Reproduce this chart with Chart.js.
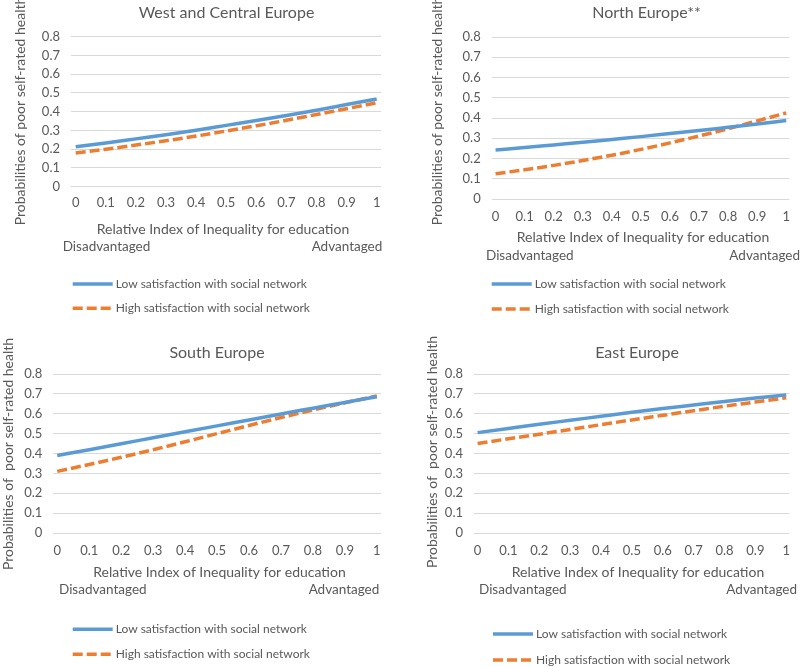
<!DOCTYPE html>
<html>
<head>
<meta charset="utf-8">
<script src="https://cdn.jsdelivr.net/npm/chart.js@4.4.1/dist/chart.umd.min.js"></script>
<style>
  body { margin: 0; background: #fff; }
  .panel { position: absolute; }
</style>
</head>
<body>
<div class="panel" style="left:0;top:0"><canvas id="chartWest" width="400" height="333"></canvas></div>
<div class="panel" style="left:400px;top:0"><canvas id="chartNorth" width="400" height="333"></canvas></div>
<div class="panel" style="left:0;top:333px"><canvas id="chartSouth" width="400" height="334"></canvas></div>
<div class="panel" style="left:400px;top:333px"><canvas id="chartEast" width="400" height="334"></canvas></div>
<script>
// data
const xValues = [0, 0.1, 0.2, 0.3, 0.4, 0.5, 0.6, 0.7, 0.8, 0.9, 1];
const yTicks = [0, 0.1, 0.2, 0.3, 0.4, 0.5, 0.6, 0.7, 0.8];

const westLow = [0.213, 0.233, 0.255, 0.277, 0.301, 0.327, 0.353, 0.38, 0.408, 0.438, 0.468];
const westHigh = [0.18, 0.2, 0.222, 0.245, 0.27, 0.297, 0.325, 0.354, 0.385, 0.416, 0.448];
const northLow = [0.242, 0.254, 0.267, 0.28, 0.294, 0.308, 0.323, 0.338, 0.354, 0.37, 0.388];
const northHigh = [0.125, 0.144, 0.166, 0.19, 0.216, 0.245, 0.277, 0.311, 0.347, 0.386, 0.425];
const southLow = [0.39, 0.419, 0.449, 0.479, 0.509, 0.539, 0.569, 0.599, 0.628, 0.657, 0.686];
const southHigh = [0.31, 0.345, 0.381, 0.419, 0.459, 0.5, 0.541, 0.581, 0.619, 0.655, 0.69];
const eastLow = [0.505, 0.526, 0.547, 0.567, 0.587, 0.607, 0.626, 0.644, 0.662, 0.679, 0.695];
const eastHigh = [0.45, 0.474, 0.497, 0.521, 0.545, 0.569, 0.592, 0.615, 0.638, 0.659, 0.68];

const seriesNames = ['Low satisfaction with social network', 'High satisfaction with social network'];
const panelTitles = ['West and Central Europe', 'North Europe**', 'South Europe', 'East Europe'];
const yTitles = [
  'Probabilities of poor self-rated health',
  'Probabilities of poor self-rated health',
  'Probabilities of  poor self-rated health',
  'Probabilities of  poor self-rated health',
];
const xTitle = 'Relative Index of Inequality for education';
const endLabels = ['Disadvantaged', 'Advantaged'];

const textColor = '#595959';
const fontFamily = 'Lato, "Open Sans", sans-serif';

// extra texts: titles, axis captions and the legend
const panelText = {
  id: 'panelText',
  afterDraw(chart, args, opts) {
    const ctx = chart.ctx;
    const b = opts.box;
    ctx.save();
    ctx.fillStyle = textColor;
    ctx.textBaseline = 'middle';

    ctx.font = '16px ' + fontFamily;
    ctx.textAlign = 'center';
    ctx.fillText(opts.title, b.titleX, b.titleY);

    ctx.font = '14px ' + fontFamily;
    ctx.fillText(xTitle, b.xTitleX, b.xTitleY);
    ctx.font = '13.5px ' + fontFamily;
    ctx.textAlign = 'left';
    ctx.fillText(endLabels[0], b.disX, b.endY);
    ctx.textAlign = 'right';
    ctx.fillText(endLabels[1], b.advX, b.endY);

    ctx.save();
    ctx.font = '14px ' + fontFamily;
    ctx.translate(b.yTitleX, b.yTitleY);
    ctx.rotate(-Math.PI / 2);
    ctx.textAlign = 'center';
    ctx.fillText(opts.yTitle, 0, 0);
    ctx.restore();

    // legend, stacked
    ctx.font = '12px ' + fontFamily;
    chart.data.datasets.forEach((ds, i) => {
      const y = b.legendY[i];
      ctx.save();
      ctx.strokeStyle = ds.borderColor;
      ctx.lineWidth = ds.borderWidth;
      ctx.setLineDash(ds.borderDash || []);
      ctx.beginPath();
      ctx.moveTo(b.legendX, y);
      ctx.lineTo(b.legendX + 40, y);
      ctx.stroke();
      ctx.restore();
      ctx.textAlign = 'left';
      ctx.fillText(ds.label, b.legendX + 43, y);
    });
    ctx.restore();
  },
};

function makePanel(canvasId, idx, low, high, box) {
  const canvas = document.getElementById(canvasId);
  const ctx = canvas.getContext('2d');
  return new Chart(ctx, {
    type: 'line',
    data: {
      datasets: [
        {
          label: seriesNames[0],
          data: xValues.map((x, i) => ({ x: x, y: low[i] })),
          borderColor: '#5B9BD5',
          borderWidth: 3.5,
          pointRadius: 0,
          cubicInterpolationMode: 'monotone',
          fill: false,
        },
        {
          label: seriesNames[1],
          data: xValues.map((x, i) => ({ x: x, y: high[i] })),
          borderColor: '#ED7D31',
          borderWidth: 3.5,
          borderDash: [10, 4],
          pointRadius: 0,
          cubicInterpolationMode: 'monotone',
          fill: false,
        },
      ],
    },
    options: {
      responsive: false,
      animation: false,
      layout: {
        padding: { left: 0, top: box.top, right: canvas.width - box.right, bottom: 0 },
      },
      scales: {
        x: {
          type: 'linear',
          min: box.xMin,
          max: box.xMax,
          afterBuildTicks: (axis) => {
            axis.ticks = xValues.map((v) => ({ value: v }));
          },
          afterFit: (scale) => {
            scale.height = canvas.height - box.bottom;
          },
          grid: { display: false, drawTicks: false },
          border: { display: false },
          ticks: {
            autoSkip: false,
            maxRotation: 0,
            padding: box.xPad,
            color: textColor,
            font: { family: fontFamily, size: 13 },
            callback: (v) => String(v),
          },
        },
        y: {
          min: 0,
          max: 0.8,
          afterBuildTicks: (axis) => {
            axis.ticks = yTicks.map((v) => ({ value: v }));
          },
          afterFit: (scale) => {
            scale.width = box.left;
          },
          grid: { color: '#d9d9d9', lineWidth: 1, drawTicks: false },
          border: { display: false },
          ticks: {
            padding: 11,
            color: textColor,
            font: { family: fontFamily, size: 13 },
            callback: (v) => String(v),
          },
        },
      },
      plugins: {
        legend: { display: false },
        title: { display: false },
        tooltip: { enabled: false },
        panelText: { title: panelTitles[idx], yTitle: yTitles[idx], box: box },
      },
    },
    plugins: [panelText],
  });
}

makePanel('chartWest', 0, westLow, westHigh, {
  left: 71, right: 381, top: 36.7, bottom: 186.7, xMin: -0.0156, xMax: 1.0143, xPad: 8,
  titleX: 226.5, titleY: 12.7, yTitleX: 20, yTitleY: 111,
  xTitleX: 223, xTitleY: 229, disX: 62.7, advX: 382.3, endY: 247,
  legendX: 72.7, legendY: [284, 308.3],
});
makePanel('chartNorth', 1, northLow, northHigh, {
  left: 91.7, right: 400, top: 37, bottom: 199, xMin: -0.0133, xMax: 1.0110, xPad: 10,
  titleX: 246.5, titleY: 13.3, yTitleX: 37, yTitleY: 111,
  xTitleX: 243, xTitleY: 237.7, disX: 86, advX: 400, endY: 256,
  legendX: 91.7, legendY: [284, 309],
});
makePanel('chartSouth', 2, southLow, southHigh, {
  left: 53.3, right: 381, top: 41, bottom: 200, xMin: -0.0125, xMax: 1.013, xPad: 10,
  titleX: 217, titleY: 19.7, yTitleX: 8, yTitleY: 121,
  xTitleX: 219.5, xTitleY: 239.3, disX: 59, advX: 379.3, endY: 257,
  legendX: 72.7, legendY: [296.3, 321.3],
});
makePanel('chartEast', 3, eastLow, eastHigh, {
  left: 74, right: 400, top: 41, bottom: 200, xMin: -0.0116, xMax: 1.0103, xPad: 10,
  titleX: 237, titleY: 20, yTitleX: 32, yTitleY: 119,
  xTitleX: 238, xTitleY: 239.3, disX: 79, advX: 397, endY: 257,
  legendX: 93, legendY: [301, 327],
});
</script>
</body>
</html>
